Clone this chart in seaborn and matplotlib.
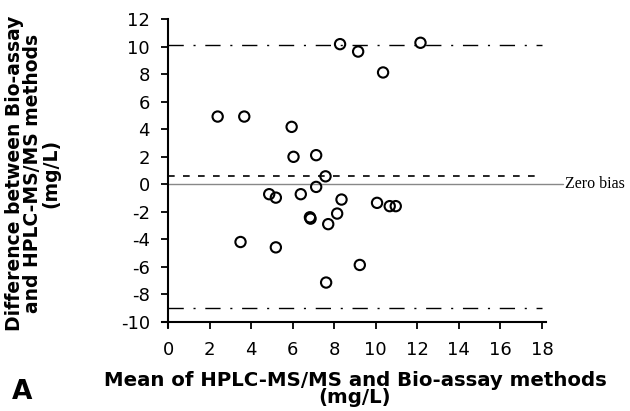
import matplotlib
matplotlib.use("Agg")
import matplotlib.pyplot as plt
import seaborn as sns
import pandas as pd

# Data (Bland-Altman plot)
mean_vals = [8.28, 9.15, 10.35, 12.15, 2.39, 3.67, 5.95, 6.04, 7.13, 7.58,
             7.13, 4.87, 5.19, 6.39, 8.35, 10.06, 10.67, 10.96, 8.14, 6.83,
             6.86, 7.71, 3.49, 5.19, 9.23, 7.61]
diff_vals = [10.2, 9.66, 8.14, 10.3, 4.93, 4.93, 4.18, 2.0, 2.12, 0.58,
             -0.19, -0.72, -0.97, -0.72, -1.11, -1.35, -1.59, -1.59, -2.13, -2.4,
             -2.5, -2.9, -4.2, -4.59, -5.87, -7.15]
mean_bias = 0.58
upper_loa = 10.15
lower_loa = -9.0
x_ticks = [0, 2, 4, 6, 8, 10, 12, 14, 16, 18]
y_ticks = [-10, -8, -6, -4, -2, 0, 2, 4, 6, 8, 10, 12]

df = pd.DataFrame({"mean": mean_vals, "diff": diff_vals})

sns.set_style("ticks")
plt.rcParams["font.family"] = ["DejaVu Sans"]
plt.rcParams["axes.unicode_minus"] = False
plt.rcParams["text.color"] = "black"
plt.rcParams["xtick.color"] = "black"
plt.rcParams["ytick.color"] = "black"
plt.rcParams["xtick.labelcolor"] = "black"
plt.rcParams["ytick.labelcolor"] = "black"

W, H = 630, 411
x0_px, xs = 168.0, 20.78      # pixel of x=0, pixels per unit
y0_px, ys = 184.3, 13.74      # pixel of y=0, pixels per unit
xlim = (-0.3, 18.2)
ylim = (-10.4, 12.0)
left = x0_px + xlim[0] * xs
right = x0_px + xlim[1] * xs
bottom = y0_px - ylim[0] * ys
top = y0_px - ylim[1] * ys

fig = plt.figure(figsize=(W / 100, H / 100), dpi=100)
ax = fig.add_axes([left / W, 1 - bottom / H, (right - left) / W, (bottom - top) / H])

sns.scatterplot(data=df, x="mean", y="diff", ax=ax, marker="o", s=55,
                facecolor="none", edgecolor="black", linewidth=1.5, zorder=3,
                clip_on=False)

ax.plot([0, 18], [upper_loa, upper_loa], color="black", lw=1.0,
        dashes=(11, 7, 1.5, 7), zorder=2)
ax.plot([0, 18], [lower_loa, lower_loa], color="black", lw=1.0,
        dashes=(11, 7, 1.5, 7), zorder=2)
ax.plot([0, 18], [mean_bias, mean_bias], color="black", lw=1.2,
        dashes=(4, 5), zorder=2)
ax.plot([0, 19.0], [0, 0], color="#888888", lw=1.0, zorder=1, clip_on=False)
ax.text(19.1, 0, "Zero bias", family="Liberation Serif", fontsize=11.5,
        va="center", ha="left", color="black")

ax.set_xlim(*xlim)
ax.set_ylim(*ylim)
ax.spines["left"].set_position(("data", 0))
ax.spines["bottom"].set_position(("data", -10))
ax.set_xticks(x_ticks)
ax.set_yticks(y_ticks)
ax.tick_params(axis="both", labelsize=13, length=5, width=1.3, direction="out",
               color="black", labelcolor="black")
ax.tick_params(axis="x", pad=9)
ax.tick_params(axis="y", pad=8)
sns.despine(ax=ax)
for sp in ["left", "bottom"]:
    ax.spines[sp].set_linewidth(1.5)
    ax.spines[sp].set_color("black")
ax.set_xlabel("")
ax.set_ylabel("")

fig.text(355 / W, 1 - 389 / H,
         "Mean of HPLC-MS/MS and Bio-assay methods\n(mg/L)",
         ha="center", va="center", fontsize=14.2, fontweight="bold",
         linespacing=0.82, color="black")
fig.text(33 / W, 1 - 173 / H,
         "Difference between Bio-assay\nand HPLC-MS/MS methods\n(mg/L)",
         ha="center", va="center", rotation=90, fontsize=13.5,
         fontweight="bold", linespacing=0.95,
         multialignment="center", color="black")
fig.text(22 / W, 1 - 405 / H, "A", ha="center", va="bottom",
         fontsize=19, fontweight="bold", color="black")

fig.savefig("out.png", dpi=100)
